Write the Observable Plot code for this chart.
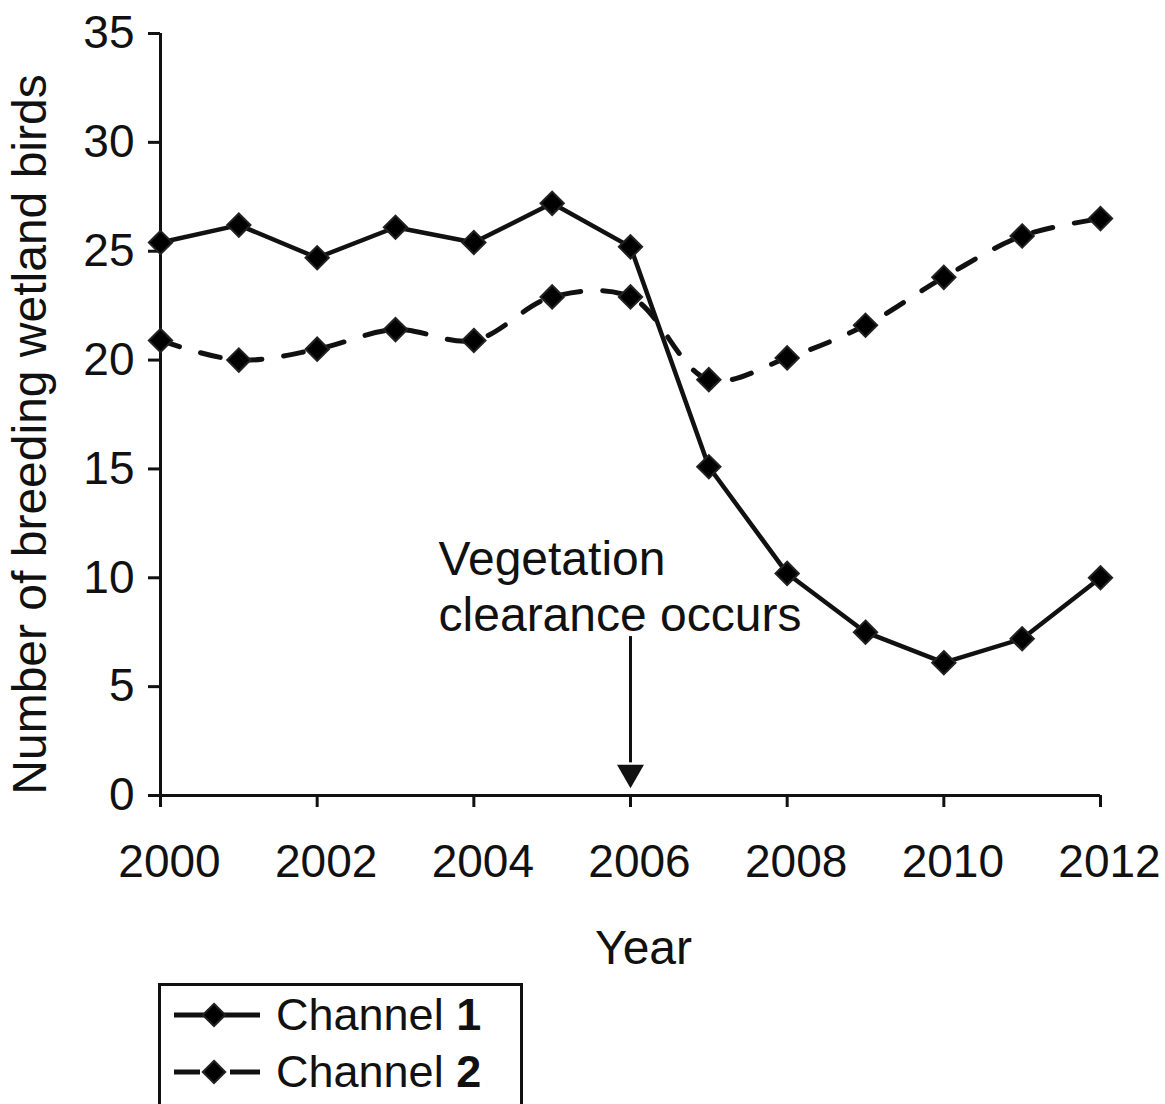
<!DOCTYPE html>
<html>
<head>
<meta charset="utf-8">
<script src="https://cdn.jsdelivr.net/npm/d3@7"></script>
<script src="https://cdn.jsdelivr.net/npm/@observablehq/plot@0.6"></script>
<style>
  body { margin: 0; background: #fff; font-family: "Liberation Sans", Arial, sans-serif; color: #111; }
  #legend { margin-left: 158px; margin-top: 8px; width: 365px; border: 3px solid #111; border-bottom: none; padding-top: 0px; height: 200px; box-sizing: border-box; }
  .row { display: flex; align-items: center; height: 57px; font-size: 45px; }
  .row svg { flex: none; margin-left: 11px; margin-right: 14px; }
</style>
</head>
<body>
<div id="chart"></div>
<div id="legend"></div>
<script>
const years    = [2000, 2001, 2002, 2003, 2004, 2005, 2006, 2007, 2008, 2009, 2010, 2011, 2012];
const channel1 = [25.4, 26.2, 24.7, 26.1, 25.4, 27.2, 25.2, 15.1, 10.2, 7.5, 6.1, 7.2, 10.0];
const channel2 = [20.9, 20.0, 20.5, 21.4, 20.9, 22.9, 22.9, 19.1, 20.1, 21.6, 23.8, 25.7, 26.5];
const xTicks = [2000, 2002, 2004, 2006, 2008, 2010, 2012];
const yTicks = [0, 5, 10, 15, 20, 25, 30, 35];
const seriesNames = ["Channel 1", "Channel 2"];
const yTitle = "Number of breeding wetland birds";
const xTitle = "Year";
const annotation = "Vegetation\nclearance occurs";
const eventYear = 2006;

const d1 = years.map((y, i) => ({year: y, value: channel1[i]}));
const d2 = years.map((y, i) => ({year: y, value: channel2[i]}));

const chart = Plot.plot({
  width: 1165,
  height: 975,
  marginLeft: 160,
  marginRight: 65,
  marginTop: 33,
  marginBottom: 180,
  style: {fontFamily: '"Liberation Sans", Arial, sans-serif', fontSize: "46px", color: "#111", background: "#fff"},
  x: {domain: [2000, 2012]},
  y: {domain: [0, 35]},
  marks: [
    Plot.axisY({ticks: yTicks, tickSize: 12, tickPadding: 14, strokeWidth: 3, label: null}),
    Plot.axisX({ticks: xTicks, tickSize: 12, strokeWidth: 3, tickFormat: () => "", label: null}),
    Plot.text(xTicks, {x: d => d, text: d => String(d), frameAnchor: "bottom", lineAnchor: "middle", dy: 67, dx: 9, fontSize: 46, fill: "#111"}),
    Plot.ruleX([2000], {y1: 0, y2: 35, strokeWidth: 3, stroke: "#111"}),
    Plot.ruleY([0], {strokeWidth: 3, stroke: "#111"}),
    Plot.text([yTitle], {frameAnchor: "left", textAnchor: "middle", rotate: -90, dx: -130, dy: 20, fontSize: 48, fill: "#111"}),
    Plot.text([xTitle], {frameAnchor: "bottom", dy: 168, fontSize: 48, fill: "#111", dx: 13}),
    Plot.line(d2, {x: "year", y: "value", stroke: "#111", strokeWidth: 5, strokeDasharray: "20,22", curve: "catmull-rom"}),
    Plot.line(d1, {x: "year", y: "value", stroke: "#111", strokeWidth: 4.5}),
    Plot.dot(d2, {x: "year", y: "value", symbol: "diamond2", r: 10.5, fill: "#000", stroke: "#222", strokeWidth: 2}),
    Plot.dot(d1, {x: "year", y: "value", symbol: "diamond2", r: 10.5, fill: "#000", stroke: "#222", strokeWidth: 2}),
    Plot.text([annotation], {x: 2003.55, y: 9.65, textAnchor: "start", lineAnchor: "middle", lineHeight: 1.17, fontSize: 48, fill: "#111"}),
    Plot.ruleX([eventYear], {y1: 7.3, y2: 1.5, stroke: "#111", strokeWidth: 3}),
    Plot.dot([eventYear], {x: d => d, y: () => 1.05, symbol: "triangle", r: 10, rotate: 180, fill: "#111", stroke: "none"})
  ]
});
document.getElementById("chart").appendChild(chart);

// Legend
const legend = d3.select("#legend");
seriesNames.forEach((name, i) => {
  const row = legend.append("div").attr("class", "row");
  const s = row.append("svg").attr("width", 90).attr("height", 40);
  s.append("line").attr("x1", 2).attr("x2", 88).attr("y1", 20).attr("y2", 20)
    .attr("stroke", "#111").attr("stroke-width", 5)
    .attr("stroke-dasharray", i === 1 ? "26,60" : null);
  if (i === 1) {
    s.append("line").attr("x1", 58).attr("x2", 88).attr("y1", 20).attr("y2", 20)
      .attr("stroke", "#111").attr("stroke-width", 5);
  }
  s.append("path").attr("d", d3.symbol(d3.symbolDiamond2, 320)())
    .attr("transform", "translate(42,20)").attr("fill", "#000").attr("stroke", "#222").attr("stroke-width", 2);
  const parts = name.split(" ");
  const t = row.append("span");
  t.append("span").text(parts[0] + " ");
  t.append("b").text(parts[1]);
});
</script>
</body>
</html>
